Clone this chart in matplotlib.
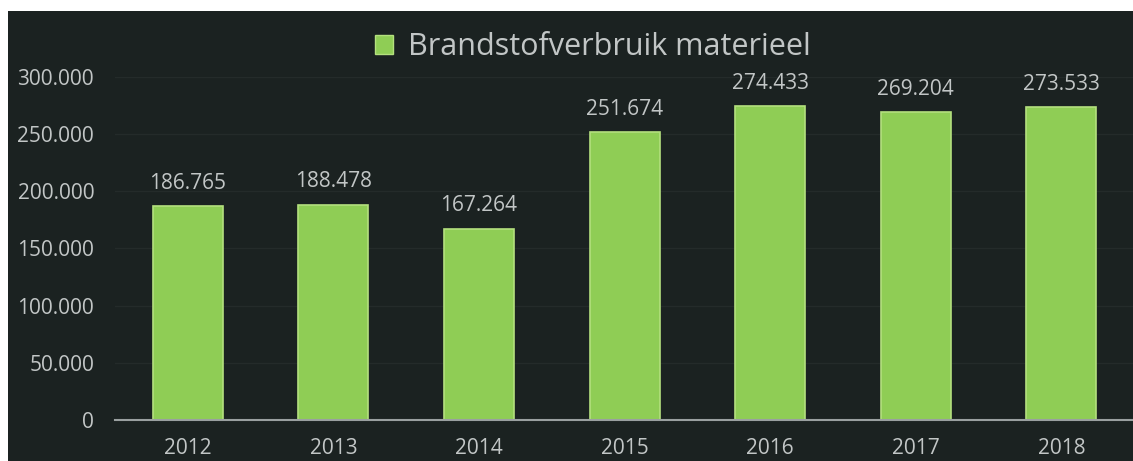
import matplotlib
matplotlib.use("Agg")
import matplotlib.pyplot as plt
from matplotlib.patches import Rectangle, Patch
from matplotlib.ticker import FuncFormatter

# Fuel consumption of equipment per year
years = ["2012", "2013", "2014", "2015", "2016", "2017", "2018"]
fuel_use = [186765, 188478, 167264, 251674, 274433, 269204, 273533]
series_name = "Brandstofverbruik materieel"
y_ticks = [0, 50000, 100000, 150000, 200000, 250000, 300000]

BG = "#1b2221"
BAR = "#8fcd55"
BAR_EDGE = "#b4e07e"
TEXT = "#c2c6c6"
FONT = "Open Sans"


def dutch_thousands(v, _pos=None):
    return f"{int(round(v)):,}".replace(",", ".")


W, H = 1133, 461
fig = plt.figure(figsize=(W / 100, H / 100), dpi=100, facecolor="white")

# dark chart panel behind everything
fig.patches.append(Rectangle((8 / W, 0), 1 - 8 / W, 1 - 11 / H,
                             transform=fig.transFigure, facecolor=BG,
                             edgecolor="none", zorder=-10))

ax = fig.add_axes([115 / W, 41 / H, (W - 115) / W + 0.001, 343 / H])
ax.set_facecolor("none")
ax.set_zorder(1)

x = range(len(years))
ax.bar(x, fuel_use, width=0.48, color=BAR, edgecolor=BAR_EDGE,
       linewidth=1.2, zorder=3)

for xi, v in zip(x, fuel_use):
    ax.annotate(dutch_thousands(v), (xi, v), xytext=(0, 9),
                textcoords="offset points", ha="center", va="bottom",
                color=TEXT, fontsize=15, family=FONT, annotation_clip=False)

ax.set_xlim(-0.5, len(years) - 0.5)
ax.set_ylim(0, 300000)
ax.set_xticks(list(x))
ax.set_xticklabels(years)
ax.set_yticks(y_ticks)
ax.yaxis.set_major_formatter(FuncFormatter(dutch_thousands))
ax.tick_params(axis="both", length=0, labelcolor=TEXT, labelsize=15)
ax.tick_params(axis="y", pad=15)
ax.tick_params(axis="x", pad=13)
for lbl in ax.get_xticklabels() + ax.get_yticklabels():
    lbl.set_family(FONT)

ax.grid(axis="y", color="#242b2a", linewidth=1.0, zorder=0)
ax.set_axisbelow(True)

for side in ("top", "right", "left"):
    ax.spines[side].set_visible(False)
ax.spines["bottom"].set_color("#9aa0a0")
ax.spines["bottom"].set_linewidth(1.5)
ax.spines["bottom"].set_zorder(4)

handle = Patch(facecolor=BAR, edgecolor=BAR_EDGE, linewidth=1.0)
fig.legend([handle], [series_name], loc="center",
           bbox_to_anchor=(593 / W, 1 - 47 / H), frameon=False,
           handlelength=0.6, handleheight=0.6,
           handletextpad=0.5, labelcolor=TEXT,
           prop={"family": FONT, "size": 22})

fig.savefig("out.png", dpi=100, facecolor=fig.get_facecolor())
